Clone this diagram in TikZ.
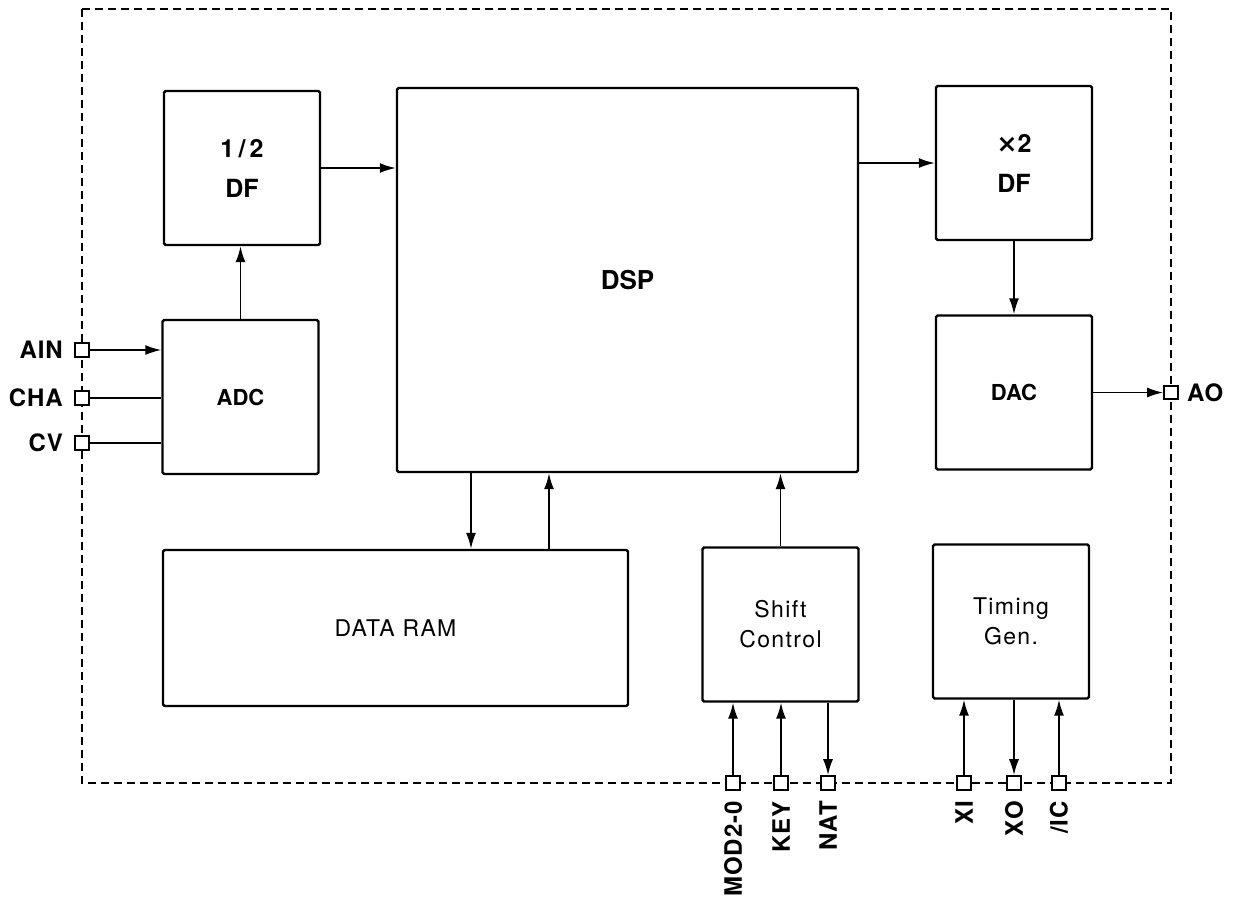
\documentclass[tikz,border=0pt]{standalone}
\usepackage{fontspec}
\setmainfont{TeX Gyre Heros}
\newfontfamily\symfont{DejaVu Sans}
\usetikzlibrary{arrows.meta, positioning}

\begin{document}
\begin{tikzpicture}[x=0.5pt, y=-0.5pt,
    every node/.style={font=\fontsize{11.5}{15}\selectfont\addfontfeatures{LetterSpace=6}}]
    \tikzset{blk/.style={rectangle, draw, line width=1.2pt, rounded corners=0.8pt,
                         minimum width=78pt, minimum height=77pt, align=center, inner sep=2pt},
             bigtxt/.style={font=\fontsize{12.5}{20}\selectfont\bfseries},
             term/.style={rectangle, draw, line width=1pt, fill=white,
                          minimum size=6.8pt, inner sep=0pt},
             pinlbl/.style={font=\fontsize{12}{14}\selectfont\bfseries\addfontfeatures{LetterSpace=4},
                            inner sep=1pt},
             sig/.style={line width=0.9pt, -{Latex[length=8pt, width=5pt]}},
             wire/.style={line width=0.9pt}}
    \useasboundingbox (0,0) rectangle (1233,907);
    % chip outline
    \draw[dash pattern=on 4pt off 2.5pt, line width=0.9pt] (82,9) rectangle (1171,783);
    % blocks
    \node[blk, bigtxt] (half) at (242,168) {1\,/\,2\\DF};
    \node[blk, minimum width=230.5pt, minimum height=192pt,
          font=\fontsize{13}{15}\selectfont\bfseries] (dsp) at (627.5,280) {DSP};
    \node[blk, bigtxt] (xtwo) at (1014,163) {{\symfont\bfseries ×}2\\DF};
    \node[blk, font=\fontsize{11}{13}\selectfont\bfseries] (adc) at (240.5,397) {ADC};
    \node[blk, font=\fontsize{11}{13}\selectfont\bfseries] (dac) at (1014,392.5) {DAC};
    \node[blk, minimum width=232.5pt, minimum height=78pt] (ram) at (395.5,628) {DATA RAM};
    \node[blk] (shift) at (780.5,624.5) {Shift\\Control};
    \node[blk] (timing) at (1011,621.5) {Timing\\Gen.};
    % pins
    \node[term] (ain) at (82,350) {};
    \node[term] (cha) at (82,398) {};
    \node[term] (cv)  at (82,443) {};
    \node[term] (ao)  at (1171,392.5) {};
    \foreach \n/\x in {mod/733, key/781, nat/828, xi/964, xo/1014, ic/1059}
      \node[term] (\n) at (\x,783) {};
    \node[pinlbl, left=4.5pt of ain] (ainlbl) {AIN};
    \node[pinlbl, left=4.5pt of cha] (chalbl) {CHA};
    \node[pinlbl, left=4.5pt of cv]  (cvlbl)  {CV};
    \node[pinlbl, right=3pt of ao]   (aolbl)  {AO};
    \foreach \n/\t in {mod/MOD2-0, key/KEY, nat/NAT, xi/XI, xo/XO}
      \node[pinlbl, rotate=90, anchor=east] (\n lbl) at ([yshift=-4pt]\n.south) {\t};
    \node[pinlbl, rotate=90, anchor=east] (iclbl) at ([yshift=-4pt]ic.south) {/IC};
    % signals
    \draw[sig] (ain) -- (ain -| adc.west);
    \foreach \p in {cha, cv}
      \draw[wire] (\p) -- (\p -| adc.west);
    \draw[sig] (adc.north) -- (adc.north |- half.south);
    \draw[sig] (half.east) -- (half.east -| dsp.west);
    \draw[sig] (xtwo.west -| dsp.east) -- (xtwo.west);
    \draw[sig] (xtwo) -- (dac);
    \draw[sig] (dac) -- (ao);
    \coordinate (wr) at (471,500);
    \coordinate (rd) at (549,500);
    \draw[sig] (wr |- dsp.south) -- (wr |- ram.north);
    \draw[sig] (rd |- ram.north) -- (rd |- dsp.south);
    \draw[sig] (shift.north) -- (shift.north |- dsp.south);
    \foreach \n in {mod, key}
      \draw[sig] (\n) -- (\n |- shift.south);
    \draw[sig] (nat |- shift.south) -- (nat);
    \foreach \n in {xi, ic}
      \draw[sig] (\n) -- (\n |- timing.south);
    \draw[sig] (xo |- timing.south) -- (xo);
\end{tikzpicture}
\end{document}
